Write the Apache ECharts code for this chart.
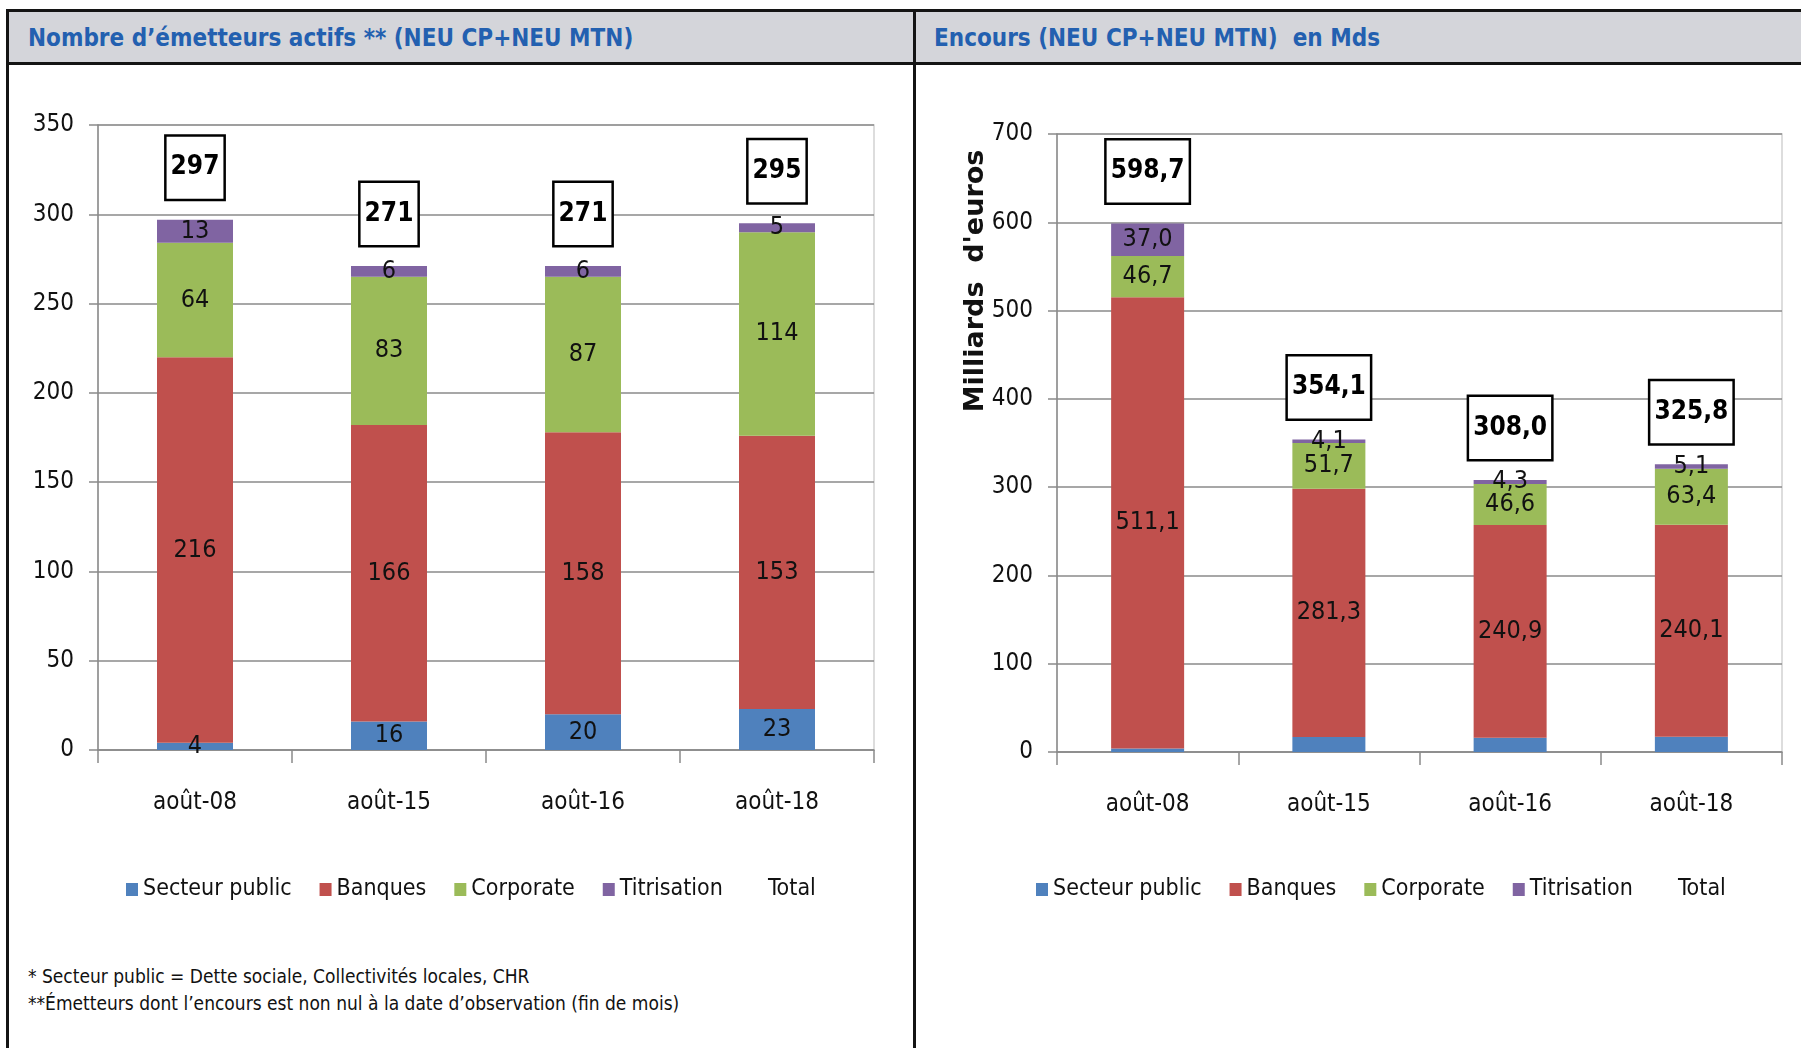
<!DOCTYPE html>
<html>
<head>
<meta charset="utf-8">
<script src="https://cdn.jsdelivr.net/npm/echarts@6/dist/echarts.min.js"></script>
<style>
body{margin:0;background:#fff;}
#page{position:relative;width:1801px;height:1048px;overflow:hidden;}
.ln{position:absolute;background:#141414;}
.head{position:absolute;top:12px;left:8px;right:0;height:50px;background:#d4d5da;}
.title{position:absolute;top:24px;font:bold 24px 'DejaVu Sans Condensed',sans-serif;color:#2360b0;white-space:pre;}
.note{position:absolute;left:28px;font:19px 'DejaVu Sans Condensed',sans-serif;color:#111;}
#board{position:absolute;left:0;top:0;width:1801px;height:1048px;}
</style>
</head>
<body>
<div id="page">
  <div class="head"></div>
  <div class="ln" style="top:9px;left:6px;right:0;height:3px"></div>
  <div class="ln" style="top:62px;left:6px;right:0;height:3px"></div>
  <div class="ln" style="top:9px;left:6px;width:3px;bottom:0"></div>
  <div class="ln" style="top:9px;left:913px;width:3px;bottom:0"></div>
  <div class="title" style="left:28px">Nombre d’émetteurs actifs ** (NEU CP+NEU MTN)</div>
  <div class="title" style="left:934px">Encours (NEU CP+NEU MTN)  en Mds</div>
  <div class="note" style="top:965px">* Secteur public = Dette sociale, Collectivités locales, CHR</div>
  <div class="note" style="top:992px">**Émetteurs dont l’encours est non nul à la date d’observation (fin de mois)</div>
  <div id="board"></div>
</div>
<script>
// catégories et valeurs
let categories = ['août-08', 'août-15', 'août-16', 'août-18']

let emetteursPublic = [4, 16, 20, 23]
let emetteursBanques = [216, 166, 158, 153]
let emetteursCorporate = [64, 83, 87, 114]
let emetteursTitrisation = [13, 6, 6, 5]
let emetteursTotal = [297, 271, 271, 295]

let encoursPublic = [3.9, 17.0, 16.2, 17.2]
let encoursBanques = [511.1, 281.3, 240.9, 240.1]
let encoursCorporate = [46.7, 51.7, 46.6, 63.4]
let encoursTitrisation = [37.0, 4.1, 4.3, 5.1]
let encoursTotal = [598.7, 354.1, 308.0, 325.8]

let leftTicks = [0, 350, 50]
let rightTicks = [0, 700, 100]

const FONT = "'DejaVu Sans Condensed',sans-serif"
const colors = {public: '#4f81bd', banques: '#c0504d', corporate: '#9bbb59', titrisation: '#8064a2'}
const names = ['Secteur public', 'Banques', 'Corporate', 'Titrisation', 'Total']

function fr(v) { return v.toFixed(1).replace('.', ',') }

function segment(name, color, data, idx, showLabel, decimals, barW) {
  return {
    name: name,
    type: 'bar',
    stack: 'tot' + idx,
    xAxisIndex: idx,
    yAxisIndex: idx,
    barWidth: barW,
    barGap: '-100%',
    data: data,
    itemStyle: {color: color},
    label: {
      show: showLabel,
      position: 'inside',
      color: '#111',
      fontFamily: FONT,
      fontSize: 25,
      formatter: p => decimals ? fr(p.value) : String(p.value)
    }
  }
}

function total(data, idx, decimals, barW) {
  return {
    name: 'Total',
    type: 'bar',
    xAxisIndex: idx,
    yAxisIndex: idx,
    barWidth: barW,
    barGap: '-100%',
    data: data,
    itemStyle: {color: 'rgba(0,0,0,0)'},
    z: 1,
    label: {
      show: true,
      position: 'top',
      distance: 21,
      color: '#000',
      fontFamily: FONT,
      fontWeight: 'bold',
      fontSize: 26,
      lineHeight: 32,
      backgroundColor: '#fff',
      borderColor: '#000',
      borderWidth: 2.5,
      padding: [15, 4],
      formatter: p => decimals ? fr(p.value) : String(p.value)
    }
  }
}

function xAxis(idx) {
  return {
    type: 'category',
    gridIndex: idx,
    data: categories,
    axisLine: {lineStyle: {color: '#8a8a8a', width: 1.5}},
    axisTick: {show: true, length: 13, lineStyle: {color: '#8a8a8a', width: 1.5}},
    axisLabel: {color: '#111', fontFamily: FONT, fontSize: 24, margin: 41}
  }
}

function yAxis(idx, ticks) {
  return {
    type: 'value',
    gridIndex: idx,
    min: ticks[0],
    max: ticks[1],
    interval: ticks[2],
    axisLine: {show: true, lineStyle: {color: '#8a8a8a', width: 1.5}},
    axisTick: {show: true, length: 9, lineStyle: {color: '#8a8a8a', width: 1.5}},
    axisLabel: {color: '#111', fontFamily: FONT, fontSize: 24, margin: 24},
    splitLine: {lineStyle: {color: '#8a8a8a', width: 1.5}}
  }
}

function legend(left) {
  return {
    data: names,
    left: left,
    top: 873,
    icon: 'rect',
    itemWidth: 12,
    itemHeight: 13,
    itemGap: 28,
    textStyle: {color: '#111', fontFamily: FONT, fontSize: 23}
  }
}

let myChart = echarts.init(document.getElementById('board'))
myChart.setOption({
  animation: false,
  grid: [
    {left: 98, top: 125, width: 776, height: 625, show: true, borderColor: '#d2d2d2', borderWidth: 1.5},
    {left: 1057, top: 134, width: 725, height: 618, show: true, borderColor: '#d2d2d2', borderWidth: 1.5}
  ],
  xAxis: [xAxis(0), xAxis(1)],
  yAxis: [yAxis(0, leftTicks), yAxis(1, rightTicks)],
  legend: [legend(121), legend(1031)],
  graphic: [{
    type: 'text',
    x: 976,
    y: 281,
    rotation: Math.PI / 2,
    style: {
      text: "Milliards  d'euros",
      fill: '#111',
      font: "bold 27px 'DejaVu Sans',sans-serif",
      textAlign: 'center',
      textVerticalAlign: 'middle'
    }
  }],
  series: [
    segment('Secteur public', colors.public, emetteursPublic, 0, true, false, 76),
    segment('Banques', colors.banques, emetteursBanques, 0, true, false, 76),
    segment('Corporate', colors.corporate, emetteursCorporate, 0, true, false, 76),
    segment('Titrisation', colors.titrisation, emetteursTitrisation, 0, true, false, 76),
    total(emetteursTotal, 0, false, 76),
    segment('Secteur public', colors.public, encoursPublic, 1, false, true, 73),
    segment('Banques', colors.banques, encoursBanques, 1, true, true, 73),
    segment('Corporate', colors.corporate, encoursCorporate, 1, true, true, 73),
    segment('Titrisation', colors.titrisation, encoursTitrisation, 1, true, true, 73),
    total(encoursTotal, 1, true, 73)
  ]
})
</script>
</body>
</html>
